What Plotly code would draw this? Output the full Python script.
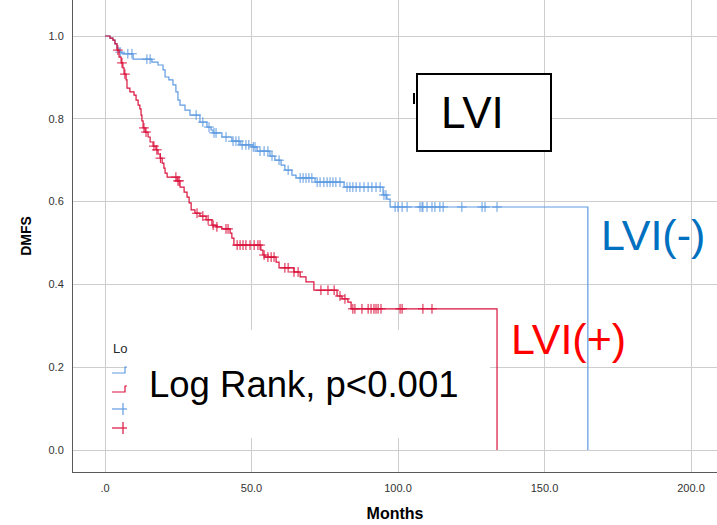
import numpy as np
import plotly.graph_objects as go

# ---------------- data ----------------
blue_t = [1.7, 2.7, 3.4, 4.1, 4.8, 5.8, 9.6, 16.0, 18.1, 19.8, 20.5, 21.8, 23.2, 24.2, 24.9, 25.6,
          27.3, 29.0, 32.4, 34.8, 36.2, 36.9, 39.9, 43.3, 46.1, 50.2, 51.9, 56.3, 58.0, 60.1, 61.4,
          63.8, 65.2, 71.7, 81.6, 94.9, 96.2, 97.3]
blue_s = [0.995, 0.990, 0.981, 0.971, 0.961, 0.957, 0.944, 0.937, 0.930, 0.918, 0.901, 0.894, 0.882,
          0.865, 0.845, 0.833, 0.821, 0.809, 0.792, 0.780, 0.773, 0.766, 0.756, 0.746, 0.737, 0.732,
          0.722, 0.710, 0.700, 0.688, 0.676, 0.664, 0.657, 0.647, 0.635, 0.616, 0.606, 0.587]
blue_end = 164.8
blue_cens = [5.2, 7.8, 9.2, 14.3, 15.4, 31.1, 33.4, 35.5, 37.2, 37.9, 41.3, 43.7, 44.7, 45.7, 46.8,
             48.1, 49.1, 50.6, 51.2, 52.9, 54.3, 55.6, 57.0, 59.4, 62.5, 66.6, 67.6, 68.6, 69.6, 70.6,
             72.4, 73.4, 74.7, 75.8, 76.8, 77.8, 78.8, 80.2, 82.6, 83.6, 84.6, 85.7, 87.0, 88.4, 89.8,
             91.1, 92.5, 93.9, 95.2, 95.9, 99.0, 100.0, 101.4, 103.1, 107.5, 108.2, 108.5, 109.9,
             111.6, 112.6, 114.3, 115.4, 121.8, 128.7, 129.7, 133.8]

red_t = [1.7, 2.7, 3.4, 4.1, 4.8, 5.5, 6.1, 6.5, 7.2, 7.5, 8.5, 9.9, 10.6, 11.3, 11.9, 12.3, 12.6,
         13.0, 13.7, 14.7, 15.4, 16.4, 17.4, 18.1, 18.8, 19.5, 20.1, 20.5, 21.2, 24.6, 25.6, 27.0,
         28.0, 28.7, 29.4, 30.7, 32.4, 34.5, 36.5, 37.9, 39.9, 42.7, 43.3, 44.0, 53.2, 53.9, 54.6,
         58.4, 59.4, 64.5, 66.6, 68.6, 71.3, 79.2, 80.9, 82.9, 84.0]
red_s = [0.995, 0.990, 0.981, 0.966, 0.949, 0.935, 0.923, 0.908, 0.894, 0.874, 0.865, 0.857, 0.845,
         0.833, 0.824, 0.809, 0.795, 0.778, 0.768, 0.756, 0.744, 0.734, 0.725, 0.715, 0.705, 0.693,
         0.681, 0.669, 0.659, 0.650, 0.635, 0.623, 0.611, 0.597, 0.580, 0.572, 0.565, 0.556, 0.543,
         0.539, 0.534, 0.524, 0.512, 0.495, 0.483, 0.471, 0.466, 0.454, 0.440, 0.430, 0.418, 0.406,
         0.386, 0.372, 0.365, 0.357, 0.341]
red_end = 133.8
red_cens = [4.4, 5.8, 6.8, 13.3, 14.0, 16.7, 17.7, 18.9, 24.2, 24.9, 25.3, 31.4, 33.4, 35.2, 36.9,
            38.2, 41.3, 42.0, 45.1, 46.1, 47.1, 48.1, 49.5, 50.9, 52.2, 52.9, 54.3, 55.6, 56.7, 57.7,
            61.4, 62.5, 64.5, 65.9, 73.7, 76.1, 78.2, 80.2, 81.9, 84.6, 85.3, 87.7, 89.8, 90.8, 91.8,
            92.5, 93.2, 94.2, 100.7, 101.4, 108.5, 111.6]

x_ticks = [0, 50, 100, 150, 200]
x_ticktext = [".0", "50.0", "100.0", "150.0", "200.0"]
y_ticks = [0.0, 0.2, 0.4, 0.6, 0.8, 1.0]
y_ticktext = ["0.0", "0.2", "0.4", "0.6", "0.8", "1.0"]

BLUE = "rgb(95,155,225)"
RED = "rgb(218,18,60)"
FONT = "Arial, Liberation Sans, sans-serif"

# ---------------- layout geometry (pixels) ----------------
W, H = 717, 525
ML, MR, MT, MB = 73, 0, 0, 53
PW, PH = W - ML - MR, H - MT - MB


def px(x):
    return (x - ML) / PW


def py(y):
    return (H - MB - y) / PH


def step_xy(t, s, end):
    xs = [0.0] + list(t) + [end]
    ys = [1.0] + list(s) + [0.0]
    return xs, ys


def surv_at(t, s, times):
    t = np.asarray(t)
    s = np.asarray(s)
    idx = np.searchsorted(t, times, side="right")
    full = np.concatenate([[1.0], s])
    return full[idx]


fig = go.Figure()
for t, s, end, cens, col in [(blue_t, blue_s, blue_end, blue_cens, BLUE),
                             (red_t, red_s, red_end, red_cens, RED)]:
    xs, ys = step_xy(t, s, end)
    fig.add_trace(go.Scatter(x=xs, y=ys, mode="lines", line=dict(color=col, width=1.2, shape="hv"),
                             hoverinfo="skip", showlegend=False))
    fig.add_trace(go.Scatter(x=cens, y=surv_at(t, s, cens), mode="markers",
                             marker=dict(symbol="cross-thin", size=7, line=dict(color=col, width=1)),
                             hoverinfo="skip", showlegend=False))

shapes = []
# remnant of legend symbols (partly covered by the white box)
shapes.append(dict(type="path", xref="paper", yref="paper",
                   path=f"M {px(112)} {py(373)} L {px(125)} {py(373)} L {px(125)} {py(367)} L {px(130)} {py(367)}",
                   line=dict(color=BLUE, width=1.2)))
shapes.append(dict(type="path", xref="paper", yref="paper",
                   path=f"M {px(112)} {py(392)} L {px(125)} {py(392)} L {px(125)} {py(386)} L {px(130)} {py(386)}",
                   line=dict(color=RED, width=1.2)))
for yy, col in [(409, BLUE), (428, RED)]:
    shapes.append(dict(type="line", xref="paper", yref="paper", x0=px(112), x1=px(130), y0=py(yy), y1=py(yy),
                       line=dict(color=col, width=1.2)))
    shapes.append(dict(type="line", xref="paper", yref="paper", x0=px(123), x1=px(123), y0=py(yy - 6), y1=py(yy + 6),
                       line=dict(color=col, width=1.2)))
# white box behind "Log Rank"
shapes.append(dict(type="rect", xref="paper", yref="paper", x0=px(127), x1=px(490), y0=py(438), y1=py(330),
                   fillcolor="white", line=dict(width=0), layer="above"))
# tiny black remnant left of the LVI box
shapes.append(dict(type="line", xref="paper", yref="paper", x0=px(414), x1=px(414), y0=py(93), y1=py(104),
                   line=dict(color="black", width=2)))
# LVI box
shapes.append(dict(type="rect", xref="paper", yref="paper", x0=px(417), x1=px(551), y0=py(151), y1=py(74),
                   fillcolor="white", line=dict(color="black", width=2), layer="above"))

annotations = [
    dict(text="Lo", x=px(111), y=py(348), xref="paper", yref="paper", xanchor="left", yanchor="middle",
         showarrow=False, font=dict(family=FONT, size=13, color="rgb(40,40,40)")),
    dict(text="Log Rank, p<0.001", x=px(303), y=py(384), xref="paper", yref="paper", xanchor="center",
         yanchor="middle", showarrow=False, font=dict(family=FONT, size=36.5, color="black")),
    dict(text="LVI", x=px(472), y=py(112), xref="paper", yref="paper", xanchor="center", yanchor="middle",
         showarrow=False, font=dict(family=FONT, size=44, color="black")),
    dict(text="LVI(-)", x=px(653), y=py(235), xref="paper", yref="paper", xanchor="center", yanchor="middle",
         showarrow=False, font=dict(family=FONT, size=43, color="rgb(0,112,192)")),
    dict(text="LVI(+)", x=px(568), y=py(339), xref="paper", yref="paper", xanchor="center", yanchor="middle",
         showarrow=False, font=dict(family=FONT, size=43, color="rgb(255,0,0)")),
]

x_left = -32 / 2.93
x_right = x_left + PW / 2.93
y_bottom = -22 / 414
y_top = y_bottom + PH / 414

fig.update_layout(
    width=W, height=H, margin=dict(l=ML, r=MR, t=MT, b=MB, pad=0),
    paper_bgcolor="white", plot_bgcolor="white",
    font=dict(family=FONT, color="rgb(50,50,50)"),
    shapes=shapes, annotations=annotations,
    xaxis=dict(range=[x_left, x_right], tickvals=x_ticks, ticktext=x_ticktext, showgrid=True,
               gridcolor="rgb(205,205,205)", gridwidth=1.3, zeroline=False, showline=True,
               linecolor="rgb(90,90,90)", linewidth=1, ticks="", ticklabelstandoff=6,
               tickfont=dict(size=11, color="rgb(50,50,50)"),
               title=dict(text="<b>Months</b>", font=dict(size=16, color="black"), standoff=14)),
    yaxis=dict(range=[y_bottom, y_top], tickvals=y_ticks, ticktext=y_ticktext, showgrid=True,
               gridcolor="rgb(205,205,205)", gridwidth=1.3, zeroline=False, showline=True,
               linecolor="rgb(90,90,90)", linewidth=1, ticks="", ticklabelstandoff=6,
               tickfont=dict(size=11, color="rgb(50,50,50)"),
               title=dict(text="<b>DMFS</b>", font=dict(size=14, color="black"), standoff=13)),
)

fig.write_html("out.html")
